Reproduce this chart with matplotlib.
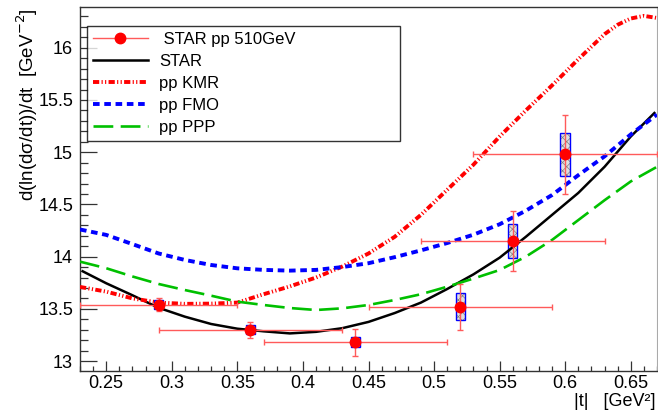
import matplotlib
matplotlib.use("Agg")
import matplotlib.pyplot as plt
from matplotlib.lines import Line2D
from matplotlib.ticker import MultipleLocator, FuncFormatter

plt.rcParams['font.family'] = ['Liberation Sans', 'DejaVu Sans']
plt.rcParams['hatch.linewidth'] = 0.5

# STAR pp 510 GeV data points
t_data = [0.29, 0.36, 0.44, 0.52, 0.56, 0.60]
b_data = [13.54, 13.30, 13.18, 13.52, 14.15, 14.98]
t_err = [0.06, 0.07, 0.07, 0.07, 0.07, 0.07]
b_stat = [0.06, 0.075, 0.13, 0.22, 0.29, 0.38]
b_sys = [0.04, 0.045, 0.05, 0.13, 0.16, 0.205]

# curves
t_star = [0.232, 0.25, 0.27, 0.29, 0.31, 0.33, 0.35, 0.37, 0.39, 0.41, 0.43, 0.45,
          0.47, 0.49, 0.51, 0.53, 0.55, 0.57, 0.59, 0.61, 0.63, 0.65, 0.668]
b_star = [13.86, 13.745, 13.63, 13.51, 13.425, 13.355, 13.31, 13.285, 13.265, 13.28,
          13.315, 13.375, 13.46, 13.56, 13.69, 13.83, 13.99, 14.19, 14.40, 14.61,
          14.86, 15.15, 15.375]

t_kmr = [0.23, 0.25, 0.27, 0.29, 0.31, 0.33, 0.35, 0.37, 0.39, 0.41, 0.43, 0.45,
         0.47, 0.49, 0.51, 0.53, 0.55, 0.57, 0.59, 0.61, 0.63, 0.64, 0.65, 0.66, 0.67]
b_kmr = [13.71, 13.665, 13.60, 13.56, 13.548, 13.55, 13.56, 13.64, 13.715, 13.80,
         13.905, 14.03, 14.19, 14.40, 14.64, 14.88, 15.15, 15.40, 15.64, 15.89,
         16.13, 16.22, 16.28, 16.305, 16.285]

t_grid = [0.23, 0.25, 0.27, 0.29, 0.31, 0.33, 0.35, 0.37, 0.39, 0.41, 0.43, 0.45,
          0.47, 0.49, 0.51, 0.53, 0.55, 0.57, 0.59, 0.61, 0.63, 0.65, 0.67]
b_fmo = [14.26, 14.208, 14.12, 14.03, 13.968, 13.92, 13.888, 13.873, 13.866, 13.873,
         13.90, 13.937, 13.995, 14.06, 14.13, 14.21, 14.31, 14.44, 14.59, 14.78,
         14.96, 15.17, 15.36]
b_ppp = [13.952, 13.889, 13.81, 13.738, 13.68, 13.626, 13.569, 13.537, 13.508, 13.489,
         13.505, 13.537, 13.585, 13.64, 13.712, 13.79, 13.872, 14.0, 14.16, 14.35,
         14.54, 14.72, 14.86]

fig = plt.figure(figsize=(6.58, 4.12), dpi=100)
ax = fig.add_axes([80 / 658, 41 / 412, 577 / 658, 364 / 412])

# systematic boxes: hatched grey fill, blue outline
box_bottom = [b - s for b, s in zip(b_data, b_sys)]
box_height = [2 * s for s in b_sys]
ax.bar(t_data, box_height, bottom=box_bottom, width=0.0072, facecolor='#e0e0e0',
       edgecolor='#808080', hatch='xxxx', linewidth=0, zorder=2)
ax.bar(t_data, box_height, bottom=box_bottom, width=0.0072, fill=False,
       edgecolor='blue', linewidth=1.0, zorder=2)

kmr_dash = (1.6, 0.6, 0.3, 0.6, 0.3, 0.6)
ax.plot(t_star, b_star, color='black', lw=1.8, zorder=3)
ax.plot(t_kmr, b_kmr, color='red', lw=2.8, dashes=kmr_dash, zorder=3)
ax.plot(t_grid, b_fmo, color='blue', lw=2.8, dashes=(1.7, 1.2), zorder=3)
ax.plot(t_grid, b_ppp, color='#00c000', lw=1.9, dashes=(7.5, 2.8), zorder=3)

ax.errorbar(t_data, b_data, xerr=t_err, yerr=b_stat, fmt='none', ecolor='#ff5a5a',
            elinewidth=1.0, capsize=2, capthick=1.0, zorder=4)
ax.plot(t_data, b_data, 'o', color='red', ms=7.5, zorder=5)

ax.set_xlim(0.23, 0.67)
ax.set_ylim(12.905, 16.39)

ax.xaxis.set_major_locator(MultipleLocator(0.05))
ax.xaxis.set_minor_locator(MultipleLocator(0.01))
ax.yaxis.set_major_locator(MultipleLocator(0.5))
ax.yaxis.set_minor_locator(MultipleLocator(0.1))
fmt = FuncFormatter(lambda v, p: '%g' % round(v, 3))
ax.xaxis.set_major_formatter(fmt)
ax.yaxis.set_major_formatter(fmt)

ax.tick_params(axis='both', which='both', direction='in', top=False, right=False,
               color='#333333', width=0.9, labelsize=13)
ax.tick_params(axis='y', which='major', length=12, pad=5)
ax.tick_params(axis='y', which='minor', length=6)
ax.tick_params(axis='x', which='major', length=7.2, pad=3)
ax.tick_params(axis='x', which='minor', length=3.6)
for s in ['left', 'bottom', 'top']:
    ax.spines[s].set_color('#333333')
    ax.spines[s].set_linewidth(1.0)
ax.spines['right'].set_color('#aaaaaa')

fig.text(27 / 658, 1 - 8 / 412, 'd(ln(dσ/dt))/dt  [GeV$^{-2}$]', rotation=90,
         ha='center', va='top', fontsize=13.5)
fig.text(656 / 658, 2 / 412, '|t|   [GeV²]', ha='right', va='bottom', fontsize=13)

handles = [
    Line2D([], [], color='#ff5a5a', lw=1.0, marker='o', mfc='red', mec='red', ms=7.5),
    Line2D([], [], color='black', lw=1.8),
    Line2D([], [], color='red', lw=2.8, dashes=kmr_dash),
    Line2D([], [], color='blue', lw=2.8, dashes=(1.7, 1.2)),
    Line2D([], [], color='#00c000', lw=1.9, dashes=(7.5, 2.8)),
]
labels = [' STAR pp 510GeV', 'STAR', 'pp KMR', 'pp FMO', 'pp PPP']
leg = ax.legend(handles, labels, loc='upper left', bbox_to_anchor=(0.012, 0.948, 0.542, 0.0),
                mode='expand', fontsize=12, frameon=True, fancybox=False,
                edgecolor='black', borderpad=0.35, labelspacing=0.42, handlelength=3.3,
                handletextpad=0.7, borderaxespad=0)
leg.get_frame().set_linewidth(1.0)

fig.savefig('out.png', dpi=100)
